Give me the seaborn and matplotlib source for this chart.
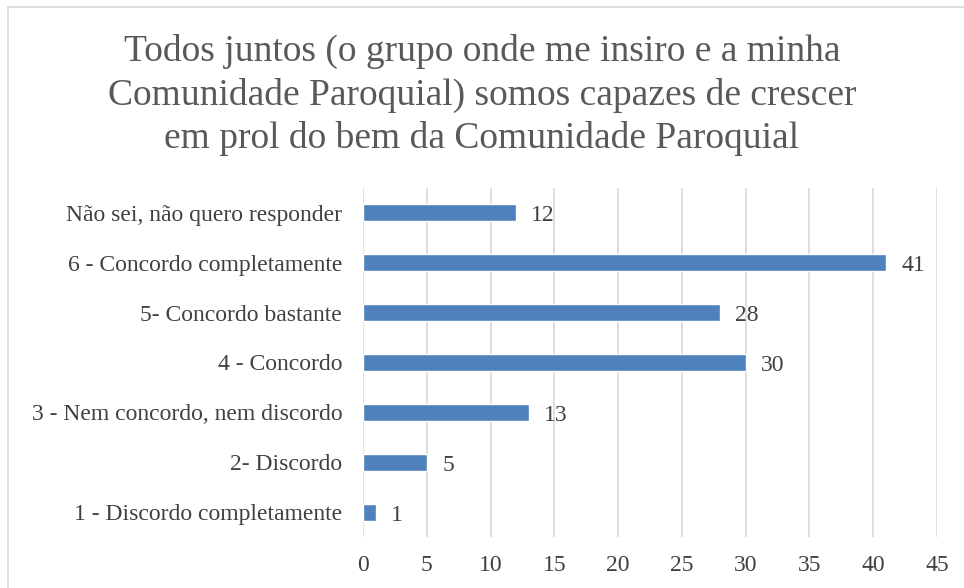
import matplotlib
matplotlib.use('Agg')
import matplotlib.pyplot as plt
import seaborn as sns
import pandas as pd
from matplotlib.lines import Line2D

categorias = ['Não sei, não quero responder', '6 - Concordo completamente',
              '5- Concordo bastante', '4 - Concordo',
              '3 - Nem concordo, nem discordo', '2- Discordo',
              '1 - Discordo completamente']
respostas = [12, 41, 28, 30, 13, 5, 1]
ticks_x = [0, 5, 10, 15, 20, 25, 30, 35, 40, 45]
titulo = ('Todos juntos (o grupo onde me insiro e a minha\n'
          'Comunidade Paroquial) somos capazes de crescer\n'
          'em prol do bem da Comunidade Paroquial')

df = pd.DataFrame({'cat': categorias, 'n': respostas})

sns.set_style('white')
plt.rcParams['font.family'] = ['Liberation Serif', 'DejaVu Serif']

fig = plt.figure(figsize=(9.64, 5.88), dpi=100)
ax = fig.add_axes([363 / 964, 1 - 537 / 588, 574 / 964, (537 - 188) / 588])

sns.barplot(data=df, x='n', y='cat', color='#4F81BD', saturation=1,
            width=0.34, ax=ax, orient='h')

ax.set_xlim(0, 45)
ax.set_ylim(6.5, -0.5)
ax.set_xticks(ticks_x)
ax.xaxis.grid(True, color='#D9D9D9', linewidth=1.2)
ax.set_axisbelow(True)
for s in ax.spines.values():
    s.set_visible(False)
ax.tick_params(axis='both', length=0, labelsize=17, colors='#404040')
ax.tick_params(axis='x', pad=13)
ax.tick_params(axis='y', pad=15)
ax.set_xlabel('')
ax.set_ylabel('')

for i, v in enumerate(respostas):
    ax.text(v + 1.2, i + 0.06, str(v), va='center', ha='left', fontsize=17, color='#404040')

fig.text(0.5, 1 - 95 / 588, titulo, ha='center', va='center', fontsize=27,
         color='#595959', linespacing=1.32)

# moldura do gráfico
fig.add_artist(Line2D([8 / 964, 8 / 964], [0, 1 - 7 / 588], color='#D9D9D9', linewidth=1.2))
fig.add_artist(Line2D([8 / 964, 1], [1 - 7 / 588, 1 - 7 / 588], color='#D9D9D9', linewidth=1.2))

fig.savefig('out.png', dpi=100, facecolor='white')
